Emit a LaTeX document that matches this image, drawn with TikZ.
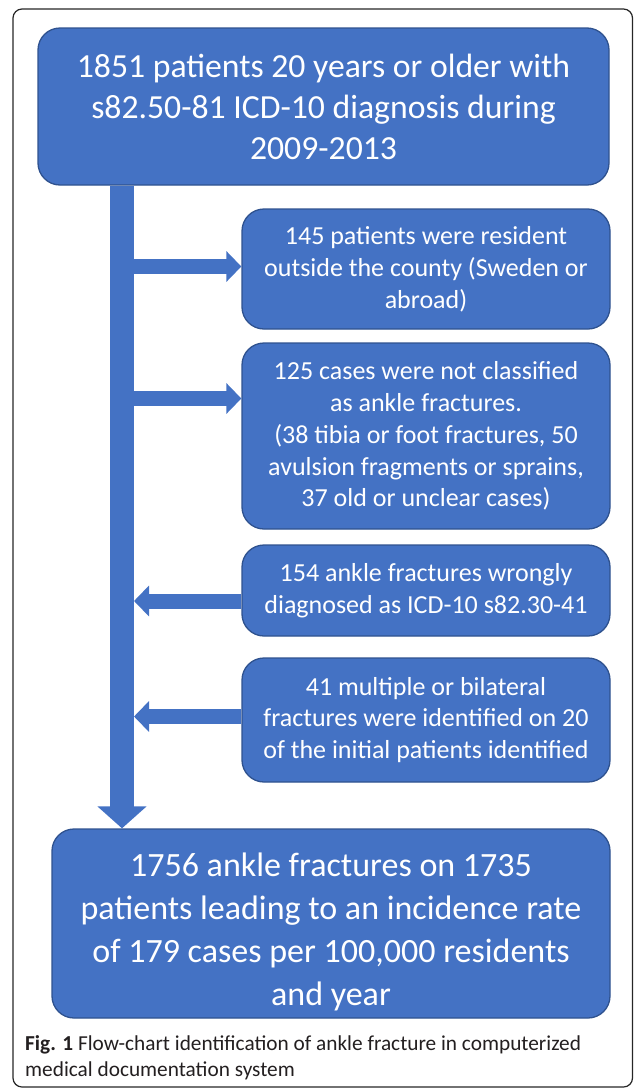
\documentclass[tikz,border=0pt]{standalone}
\usepackage{fontspec}
\setmainfont{Carlito}
\usetikzlibrary{arrows.meta,calc}
\definecolor{fillblue}{HTML}{4472C4}
\definecolor{edgeblue}{HTML}{2F528F}
\definecolor{captext}{HTML}{231F20}
\begin{document}
\begin{tikzpicture}[x=1pt,y=-1pt,
  box/.style={draw=edgeblue, line width=1.3pt, fill=fillblue, rounded corners=22pt,
    text=white, align=center, inner sep=0pt},
  smallbox/.style={box, minimum width=368pt, font=\fontsize{26}{31.8}\selectfont},
  boxtext/.style={text=white, align=center, inner sep=0pt},
  barrow/.style={draw=fillblue, line width=15pt, -{Triangle[width=30pt,length=15pt]}},
  trunkarrow/.style={draw=fillblue, line width=24pt, -{Triangle[width=48pt,length=22pt]}}]
\useasboundingbox (0,0) rectangle (634,1090);
\draw[line width=1.2pt, black!85, rounded corners=9pt] (13,9) rectangle (632.5,1087);

\node[box, minimum width=571pt, minimum height=157pt, font=\fontsize{33.7}{41}\selectfont]
  (top) at (323.5,106.5) {1851 patients 20 years or older with\\s82.50-81 ICD-10 diagnosis during\\2009-2013};
\node[smallbox, minimum height=120pt] (b2) at (426,269)
  {145 patients were resident\\outside the county (Sweden or\\abroad)};
\node[smallbox, minimum height=186pt] (b3) at (426,436)
  {125 cases were not classified\\as ankle fractures.\\(38 tibia or foot fractures, 50\\avulsion fragments or sprains,\\37 old or unclear cases)};
\node[smallbox, minimum height=91pt] (b4) at (426,590.5)
  {154 ankle fractures wrongly\\diagnosed as ICD-10 s82.30-41};
\node[smallbox, minimum height=124pt] (b5) at (426,720)
  {41 multiple or bilateral\\fractures were identified on 20\\of the initial patients identified};
\node[box, minimum width=558pt, minimum height=189pt] (bot) at (331,923.5) {};
\node[boxtext, font=\fontsize{34}{43}\selectfont] (bottext) at ($(bot.center)+(0,8)$)
  {1756 ankle fractures on 1735\\patients leading to an incidence rate\\of 179 cases per 100,000 residents\\and year};

\coordinate (trunkx) at (122,0);
\coordinate (edgex) at (134,0);
\draw[trunkarrow] (top.south -| trunkx) -- (bot.north -| trunkx);
\draw[barrow] (trunkx |- 0,266.5) -- (b2.west |- 0,266.5);
\draw[barrow] (trunkx |- 0,398.5) -- (b3.west |- 0,398.5);
\draw[barrow] (b4.west |- 0,601) -- (edgex |- 0,601);
\draw[barrow] (b5.west |- 0,716.5) -- (edgex |- 0,716.5);

\node[anchor=north west, align=left, inner sep=0pt, text=captext,
  font=\fontsize{21.3}{26}\selectfont] (cap) at (25,1035)
  {\textbf{Fig. 1} Flow-chart identification of ankle fracture in computerized\\medical documentation system};
\end{tikzpicture}
\end{document}
